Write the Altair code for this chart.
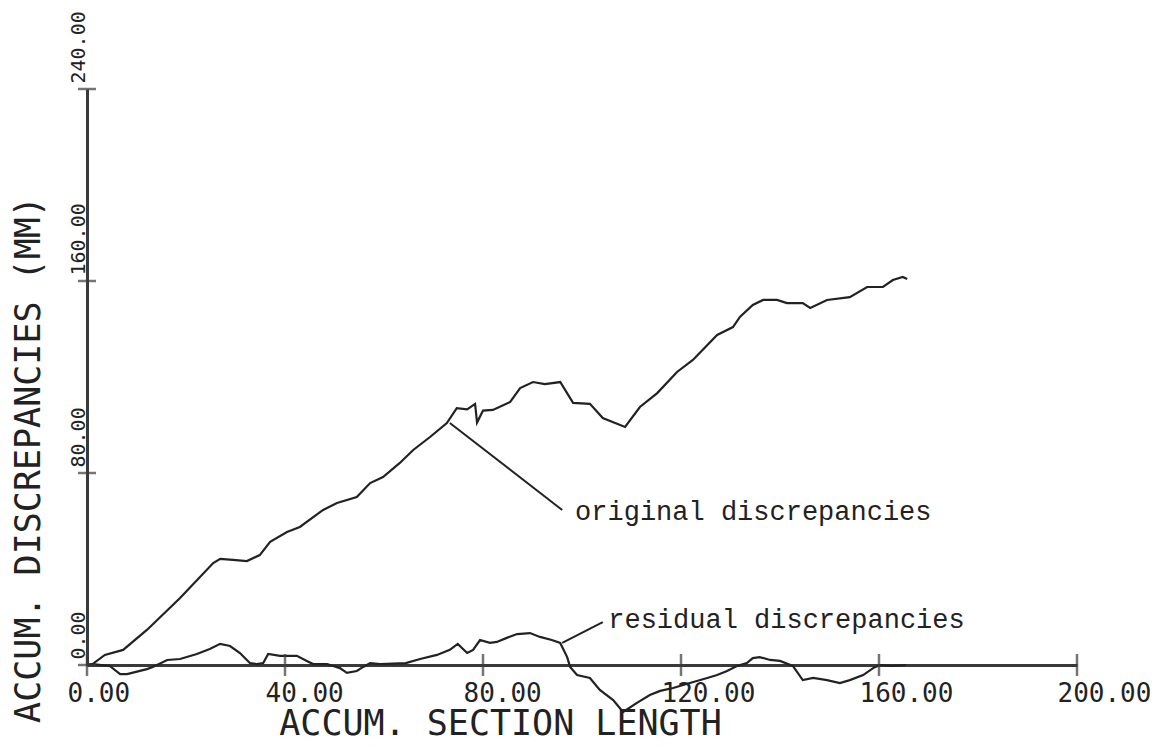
import altair as alt
import pandas as pd

# ---- data ----
orig_x = [0, 1.2, 3.6, 7.3, 12.1, 18.8, 25.5, 26.9, 29.5, 32.3, 34.9, 37.0, 40.4, 43.0,
          47.7, 50.5, 54.5, 57.2, 59.8, 63.2, 65.9, 69.3, 72.7, 74.7, 76.8, 78.4, 78.8,
          80.0, 82.0, 85.5, 87.5, 90.1, 92.5, 95.6, 98.2, 101.6, 104.2, 108.7, 111.7,
          115.2, 119.2, 122.4, 127.3, 130.5, 131.9, 134.5, 136.6, 139.4, 141.4, 144.6,
          146.1, 149.5, 154.1, 157.6, 160.8, 162.8, 164.8, 165.7]
orig_y = [0, 0.5, 4.2, 6.3, 14.6, 27.9, 42.5, 44.2, 43.8, 43.3, 45.8, 51.3, 55.4, 57.5,
          64.6, 67.5, 70.0, 75.8, 78.3, 84.2, 89.6, 95.0, 100.8, 107.0, 106.5, 108.8, 101.0,
          106.0, 106.3, 109.6, 115.4, 117.9, 117.0, 117.9, 109.2, 108.8, 102.9, 99.2, 107.5,
          113.3, 122.1, 127.1, 137.5, 140.8, 145.0, 150.0, 152.1, 152.1, 150.8, 150.8,
          148.8, 152.1, 153.3, 157.5, 157.5, 160.4, 161.7, 160.8]

res_x = [0, 1.2, 4.6, 6.7, 8.1, 12.1, 13.3, 16.2, 18.8, 22.2, 24.8, 26.9, 28.9, 30.9,
         32.9, 34.3, 35.6, 36.6, 39.0, 40.4, 42.4, 44.4, 45.7, 48.5, 51.1, 52.5, 54.5,
         55.8, 57.2, 59.2, 64.4, 67.3, 70.7, 73.3, 74.9, 76.8, 78.0, 79.4, 81.4, 82.8,
         84.8, 86.9, 89.5, 91.5, 93.9, 95.6, 97.0, 97.6, 99.0, 101.6, 103.6, 106.3, 108.3,
         111.1, 113.7, 115.8, 118.4, 121.8, 125.3, 127.3, 129.3, 131.3, 133.3, 134.5,
         135.9, 138.0, 140.0, 142.6, 144.6, 146.7, 149.5, 152.1, 154.1, 156.8, 158.8,
         160.2, 162.8, 165.5]
res_y = [0, 0.4, -0.4, -3.8, -3.8, -1.7, -0.8, 2.1, 2.5, 4.6, 6.7, 8.8, 7.9, 5.0,
         0.8, 0.4, 0.8, 4.6, 3.8, 3.8, 3.8, 1.7, 0.4, 0.4, -1.3, -3.3, -2.5,
         -0.8, 0.8, 0.4, 0.8, 2.5, 4.2, 6.3, 8.8, 5.0, 6.3, 10.4, 9.2, 9.6,
         11.3, 12.9, 13.3, 11.7, 10.4, 9.2, 3.3, -0.8, -4.2, -5.4, -10.4, -14.6, -19.6,
         -15.8, -12.5, -10.8, -9.6, -7.5, -5.4, -4.2, -2.5, -0.4, 0.8, 2.9,
         3.3, 2.1, 1.7, -0.4, -6.3, -5.4, -6.3, -7.5, -6.3, -4.2, -1.3,
         0.0, -0.4, 0.0]

x_ticks = [0, 40, 80, 120, 160, 200]
y_ticks = [0, 80, 160, 240]

ann_text = ["original discrepancies", "residual discrepancies"]
ann_text_x = [98.6, 105.3]
ann_text_y = [60.4, 15.4]
lead_x = [73.3, 96.0]
lead_y = [100.8, 9.2]
lead_x2 = [96.0, 104.2]
lead_y2 = [64.6, 17.9]

# ---- tables ----
lines = pd.concat([
    pd.DataFrame({"x": orig_x, "y": orig_y, "series": "original"}),
    pd.DataFrame({"x": res_x, "y": res_y, "series": "residual"}),
])
xt = pd.DataFrame({"x": x_ticks, "y": [0] * len(x_ticks)})
yt = pd.DataFrame({"x": [0] * len(y_ticks), "y": y_ticks})
ann = pd.DataFrame({"label": ann_text, "x": ann_text_x, "y": ann_text_y})
lead = pd.DataFrame({"x": lead_x, "y": lead_y, "x2": lead_x2, "y2": lead_y2})

INK = "#222222"
AXIS_INK = "#3a3a3a"
PLOT_FONT = "DejaVu Sans Mono"
TYPE_FONT = "Liberation Mono"

xscale = alt.Scale(domain=[0, 200], nice=False, zero=False)
yscale = alt.Scale(domain=[0, 240], nice=False, zero=False)

x_axis = alt.Axis(
    values=x_ticks, format=".2f", ticks=False, grid=False,
    domain=True, domainColor=AXIS_INK, domainWidth=3,
    labelFont=PLOT_FONT, labelFontSize=26, labelColor=INK,
    labelAlign="left", labelBaseline="top", labelOffset=-20, labelPadding=15,
    labelFlush=False, labelOverlap=False, labelBound=False,
    title="ACCUM. SECTION LENGTH", titleFont=PLOT_FONT, titleFontSize=35,
    titleFontWeight="normal", titleColor=INK, titleAngle=0,
    titleAlign="center", titleBaseline="alphabetic", titleX=413, titleY=69,
)
y_axis = alt.Axis(
    values=y_ticks, format=".2f", ticks=False, grid=False,
    domain=True, domainColor=AXIS_INK, domainWidth=3,
    labelFont=PLOT_FONT, labelFontSize=20, labelColor=INK,
    labelAngle=270, labelAlign="left", labelBaseline="alphabetic",
    labelOffset=-6, labelPadding=3,
    labelFlush=False, labelOverlap=False, labelBound=False,
    title="ACCUM. DISCREPANCIES (MM)", titleFont=PLOT_FONT, titleFontSize=35,
    titleFontWeight="normal", titleColor=INK, titleAngle=270,
    titleAlign="center", titleBaseline="alphabetic", titleX=-48, titleY=370,
)

X = alt.X("x:Q", scale=xscale, axis=x_axis)
Y = alt.Y("y:Q", scale=yscale, axis=y_axis)

line_layer = alt.Chart(lines).mark_line(color=INK, strokeWidth=2.2).encode(
    x=X, y=Y, detail="series:N", order="x:Q",
)

xtick_layer = alt.Chart(xt).mark_tick(
    orient="vertical", size=22, thickness=2.5, color=AXIS_INK
).encode(x=X, y=Y)

ytick_layer = alt.Chart(yt).mark_tick(
    orient="horizontal", size=18, thickness=2.5, color=AXIS_INK
).encode(x=X, y=Y)

lead_layer = alt.Chart(lead).mark_rule(color=INK, strokeWidth=2).encode(
    x=X, y=Y, x2="x2:Q", y2="y2:Q",
)

text_layer = alt.Chart(ann).mark_text(
    align="left", baseline="alphabetic", font=TYPE_FONT, fontSize=27, color=INK
).encode(x=X, y=Y, text="label:N")

chart = alt.layer(
    line_layer, xtick_layer, ytick_layer, lead_layer, text_layer
).properties(
    width=990,
    height=576,
    autosize=alt.AutoSizeParams(type="none"),
    padding={"left": 79, "top": 81, "right": 76, "bottom": 77},
    background="white",
).configure_view(stroke=None)

chart.save("out.html", embed_options={"renderer": "svg", "actions": False})
